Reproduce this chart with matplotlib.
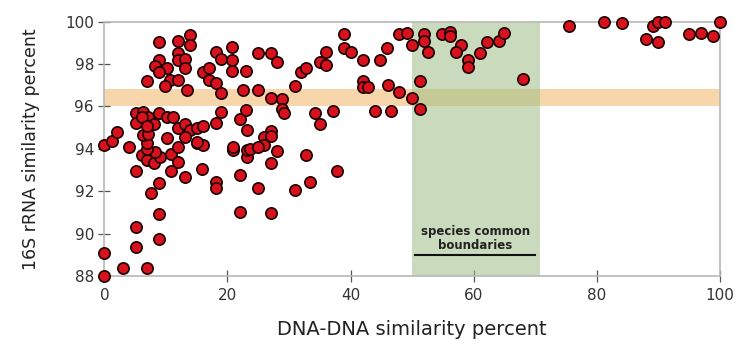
import matplotlib
matplotlib.use("Agg")
import matplotlib.pyplot as plt

# DNA-DNA similarity (x) vs 16S rRNA similarity (y)
dna = [0, 0, 0, 1.2, 2.0, 3.0, 6.9, 4.0,
       5.1, 5.1, 8.9, 8.9, 7.5, 8.9, 5.1,
       6.05, 7.0, 8.1, 9.0, 8.2, 7.0, 7.0, 6.2, 7.1,
       10.1, 10.9, 12.0, 12.0, 10.8, 13.1,
       15.0, 16.0, 15.9, 18.1, 18.1, 20.9, 22.0, 22.0, 23.1, 23.1,
       5.2, 6.3, 7.1, 8.9, 10.1, 11.2, 5.2, 6.05, 8.05, 7.0, 12.0, 13.1, 13.9,
       15.0, 16.1, 13.1, 15.0, 18.1, 19.0, 22.0, 23.0, 23.1, 20.9,
       8.9, 12.0, 13.9, 13.9, 12.0, 12.0, 13.1, 8.9, 8.2, 10.1, 8.9, 13.1, 7.0,
       10.6, 12.0, 9.8, 13.4, 16.1, 17.0, 18.1, 19.0, 20.8, 20.8, 20.8, 17.0,
       18.1, 19.0, 22.5, 23.0,
       25.0, 27.0, 28.1, 25.0, 27.0, 28.9, 28.9, 29.2, 30.9, 31.9, 32.8, 35.0,
       36.0, 36.0, 38.9, 38.9, 40.1, 42.0, 44.7, 45.9, 47.9, 49.1, 50.0, 52.0,
       52.0, 52.6, 42.0, 42.0, 42.8, 46.1, 47.9, 50.0, 51.2, 51.2, 43.9, 46.5,
       34.2, 37.1, 35.0,
       27.0, 25.9, 27.0, 25.9, 23.6, 25.0, 28.1, 27.0, 25.0, 32.8, 37.8, 33.4,
       30.9, 27.0,
       54.9, 56.1, 56.1, 58.0, 57.2, 59.1, 59.1, 61.0, 62.2, 64.1, 65.0, 68.0,
       75.5, 81.1, 84.1, 88.0, 89.1, 89.9, 91.1, 89.9, 95.0, 97.0, 98.8, 100]
rrna = [94.2, 89.1, 88.0, 94.35, 94.8, 88.4, 88.4, 94.1,
        90.33, 89.36, 89.74, 90.93, 91.93, 92.38, 92.97,
        93.71, 93.48, 93.32, 93.63, 93.87, 93.98, 94.26, 94.66, 94.7,
        94.5, 93.76, 94.08, 93.37, 92.97, 92.69,
        94.26, 94.18, 93.05, 92.45, 92.14, 93.95, 92.77, 91.04, 93.63, 93.95,
        95.71, 95.75, 95.49, 95.71, 95.49, 95.49, 95.21, 95.49, 95.17, 95.08, 94.97, 95.17, 94.89,
        94.97, 95.08, 94.58, 94.30, 95.24, 95.75, 95.40, 95.83, 94.89, 94.10,
        99.03, 99.10, 99.37, 98.90, 98.51, 98.19, 98.22, 98.19, 97.91, 97.80, 97.61, 97.80, 97.22,
        97.25, 97.25, 96.97, 96.78, 97.64, 97.80, 98.58, 98.22, 98.79, 98.19, 97.69, 97.25,
        97.09, 96.62, 96.78, 97.69,
        98.51, 98.51, 98.11, 96.78, 96.39, 96.34, 95.87, 95.68, 96.97, 97.64, 97.80, 98.11,
        97.96, 98.56, 99.40, 98.75, 98.58, 98.19, 98.19, 98.75, 99.40, 99.48, 98.90, 99.40,
        99.10, 98.58, 97.22, 96.91, 96.91, 97.01, 96.70, 96.39, 97.22, 95.87, 95.79, 95.79,
        95.71, 95.79, 95.17,
        94.85, 94.58, 94.6, 94.18, 94.0, 94.08, 93.9, 93.35, 92.14, 93.71, 92.97, 92.45,
        92.06, 90.99,
        99.42, 99.50, 99.33, 98.90, 98.58, 98.19, 97.88, 98.54, 99.06, 99.10, 99.45, 97.30,
        99.80, 100.0, 99.92, 99.17, 99.80, 100.0, 100.0, 99.03, 99.42, 99.48, 99.34, 100.0]

x_ticks = [0, 20, 40, 60, 80, 100]
y_ticks = [88, 90, 92, 94, 96, 98, 100]
rrna_band = (96.0, 96.8)
species_band = (50, 70.7)
band_label = "species common\nboundaries"

fig = plt.figure(figsize=(7.36, 3.49), dpi=100)
ax = fig.add_axes([0.1418, 0.2092, 0.8364, 0.7287])

ax.axhspan(rrna_band[0], rrna_band[1], color="#f6d6aa", lw=0, zorder=1)
ax.axvspan(species_band[0], species_band[1], color="#9dbf85", alpha=0.55, lw=0, zorder=2)

ax.scatter(dna, rrna, s=66, c="#d8121c", edgecolors="#1a0000", linewidths=1.2,
           zorder=5, clip_on=False)

ax.text(60.3, 89.78, band_label, ha="center", va="center", fontsize=8.5,
        fontweight="bold", color="#222222", linespacing=1.05, zorder=6)
ax.plot([50.4, 69.9], [89.0, 89.0], color="#111111", lw=1.5, zorder=6)

ax.set_xlim(0, 100)
ax.set_ylim(88, 100)
ax.set_xticks(x_ticks)
ax.set_yticks(y_ticks)
for s in ax.spines.values():
    s.set_color("#b8b8b8")
    s.set_linewidth(1.2)
ax.tick_params(direction="inout", length=8, width=0.9, color="#555555",
               labelsize=11, labelcolor="#333333")
ax.tick_params(axis="x", pad=5)

ax.set_xlabel("DNA-DNA similarity percent", fontsize=14, color="#222222", labelpad=12)
ax.set_ylabel("16S rRNA similarity percent", fontsize=12.5, color="#222222", labelpad=18)

fig.savefig("out.png", dpi=100)
